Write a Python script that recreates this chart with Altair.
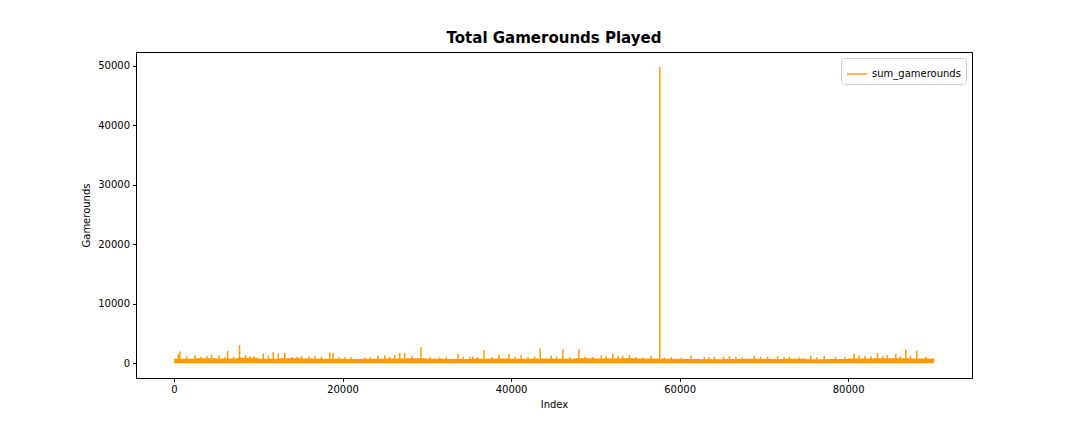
import altair as alt
import pandas as pd

# Spikes (index, gamerounds)
spike_index = [510, 700, 2490, 4460, 5330, 6360, 7780, 8490, 9520, 10590, 11770, 12370,
               13150, 15130, 16710, 17500, 18490, 18880, 21060, 22640, 24210, 25010,
               26190, 26790, 27380, 29300, 31530, 33700, 35080, 35470, 36780, 38560,
               39740, 41210, 42790, 43460, 44760, 46140, 48040, 49700, 50690, 52070,
               53250, 54040, 55620, 56620, 57650, 58190, 61350, 62930, 64120, 65900,
               66690, 68860, 70440, 71620, 73010, 75570, 77160, 80710, 81300, 83480,
               84660, 85650, 86840, 88140]
spike_value = [1500, 2000, 1350, 1460, 1350, 2070, 3030, 1350, 1120, 1570, 1850, 1570,
               1740, 1230, 1230, 1120, 1850, 1740, 1060, 960, 1230, 1350,
               1350, 1740, 1740, 2700, 960, 1570, 1120, 1120, 2180, 1400,
               1570, 1400, 1120, 2470, 1230, 2350, 2350, 1060, 1350, 1570,
               1230, 1400, 960, 1230, 49854, 960, 1350, 1060, 1120, 1230,
               1120, 1230, 1120, 1230, 1120, 1230, 1230, 1570, 1350, 1740,
               1350, 1570, 2290, 2130]

# Smaller bumps on top of the dense band
bump_index = [1500, 3200, 3900, 6000, 7100, 9000, 11200, 14000, 14600, 16000, 19600,
              20300, 23300, 25600, 28200, 30400, 32300, 34300, 36000, 37700, 40500,
              42000, 45400, 47000, 48800, 51300, 52700, 54800, 59000, 60200, 63500,
              65200, 67400, 69600, 72400, 74200, 76300, 78500, 79600, 82000, 82700,
              84100, 86200, 87400, 89200]
bump_value = [1150, 1100, 1200, 1050, 1100, 1150, 1250, 1050, 1100, 1150, 1000,
              1050, 1000, 1100, 1200, 1050, 1000, 1100, 1050, 1000, 1100,
              1050, 1150, 1050, 1100, 1150, 1200, 1100, 1000, 950, 1000,
              1050, 1000, 1050, 1000, 950, 1000, 1050, 1000, 1200, 1150,
              1200, 1150, 1250, 1100]

# Dense band envelope
band_index = [0, 2500, 5000, 7500, 10000, 12500, 15000, 17500, 20000, 22500, 25000,
              27500, 30000, 32500, 35000, 37500, 40000, 42500, 45000, 47500, 50000,
              52500, 55000, 57500, 60000, 62500, 65000, 67500, 70000, 72500, 75000,
              77500, 80000, 82500, 85000, 87500, 90188]
band_value = [750, 850, 800, 900, 750, 850, 800, 750, 700, 750, 800,
              850, 750, 700, 750, 800, 750, 800, 750, 850, 800,
              850, 800, 750, 700, 650, 700, 750, 700, 750, 650,
              700, 800, 850, 850, 800, 750]

ORANGE = "#ff9a00"
FONT = "DejaVu Sans"

spikes = pd.DataFrame({"Index": spike_index, "Gamerounds": spike_value,
                       "series": ["sum_gamerounds"] * len(spike_index)})
bumps = pd.DataFrame({"Index": bump_index, "Gamerounds": bump_value})
band = pd.DataFrame({"Index": band_index, "Gamerounds": band_value})

xscale = alt.Scale(domain=[-4509, 94697], nice=False, zero=False)
yscale = alt.Scale(domain=[-2493, 52347], nice=False, zero=False)

xaxis = alt.Axis(title="Index", values=[0, 20000, 40000, 60000, 80000], format="d",
                 grid=False, domain=False, tickColor="black", tickSize=3.5,
                 labelPadding=3, labelFontSize=10, labelColor="black", labelFont=FONT,
                 titleFont=FONT, titleFontSize=10, titleFontWeight="normal",
                 titleColor="black", titlePadding=5)
yaxis = alt.Axis(title="Gamerounds", values=[0, 10000, 20000, 30000, 40000, 50000],
                 format="d", grid=False, domain=False, tickColor="black", tickSize=3.5,
                 labelPadding=3, labelFontSize=10, labelColor="black", labelFont=FONT,
                 titleFont=FONT, titleFontSize=10, titleFontWeight="normal",
                 titleColor="black", titlePadding=6)

area = alt.Chart(band).mark_area(color=ORANGE, opacity=1, interpolate="step-after").encode(
    x=alt.X("Index:Q", scale=xscale, axis=xaxis),
    y=alt.Y("Gamerounds:Q", scale=yscale, axis=yaxis),
    y2=alt.datum(0),
)

bump_rules = alt.Chart(bumps).mark_rule(strokeWidth=1.5, color=ORANGE).encode(
    x=alt.X("Index:Q", scale=xscale),
    y=alt.Y("Gamerounds:Q", scale=yscale),
    y2=alt.datum(0),
)

rules = alt.Chart(spikes).mark_rule(strokeWidth=1.5).encode(
    x=alt.X("Index:Q", scale=xscale),
    y=alt.Y("Gamerounds:Q", scale=yscale),
    y2=alt.datum(0),
    color=alt.Color("series:N", scale=alt.Scale(range=[ORANGE]),
                    legend=alt.Legend(title=None, orient="top-right", offset=6,
                                      symbolType="stroke", symbolSize=400,
                                      symbolStrokeWidth=1.5, labelFont=FONT,
                                      labelFontSize=10, labelColor="black",
                                      strokeColor="#cccccc", fillColor="white",
                                      cornerRadius=3, padding=5)),
)

chart = alt.layer(area, bump_rules, rules).properties(
    width=836, height=326,
    background="white",
    title=alt.TitleParams("Total Gamerounds Played", font=FONT, fontSize=15,
                          fontWeight="bold", color="black", anchor="middle", offset=6),
    autosize=alt.AutoSizeParams(type="none"),
    padding={"left": 128, "top": 44, "right": 100, "bottom": 40},
).configure_view(stroke="black", strokeWidth=1)

chart.save("out.html", embed_options={"renderer": "svg", "actions": False})
